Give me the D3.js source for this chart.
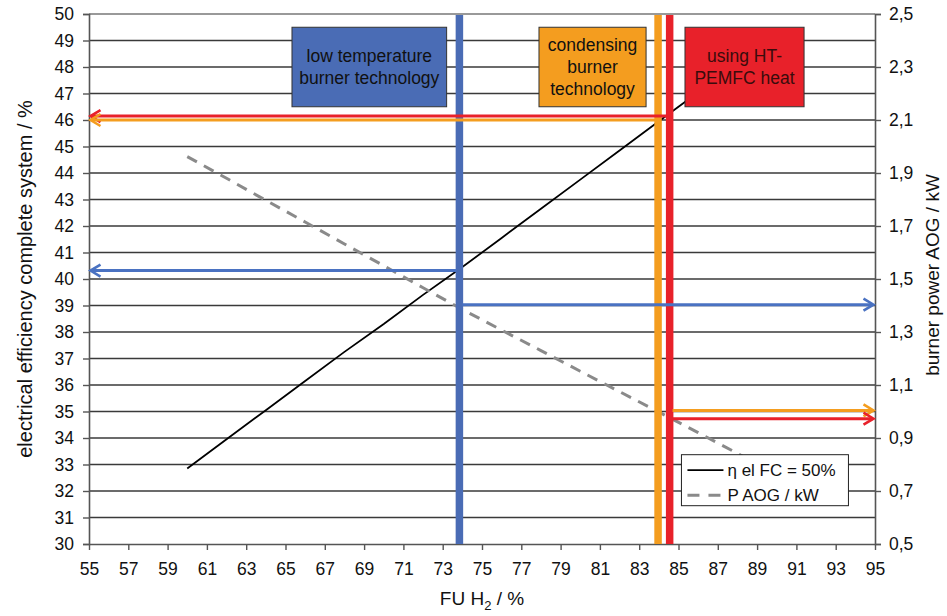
<!DOCTYPE html>
<html>
<head>
<meta charset="utf-8">
<script src="https://cdn.jsdelivr.net/npm/d3@7"></script>
<style>
  body { margin: 0; background: #fff; }
  svg text { font-family: "Liberation Sans", Arial, sans-serif; fill: #111; }
</style>
</head>
<body>
<svg id="chart" width="947" height="616"></svg>
<script>
// values
var effTicks = [30, 31, 32, 33, 34, 35, 36, 37, 38, 39, 40, 41, 42, 43, 44, 45, 46, 47, 48, 49, 50];
var fuTicks = [55, 57, 59, 61, 63, 65, 67, 69, 71, 73, 75, 77, 79, 81, 83, 85, 87, 89, 91, 93, 95];
var powerTicks = [0.5, 0.7, 0.9, 1.1, 1.3, 1.5, 1.7, 1.9, 2.1, 2.3, 2.5];

// eta el (left axis, %)
var fuEta = [60, 62, 64, 66, 68, 70, 72, 74, 76, 78, 80, 82, 84, 86, 88];
var etaEl = [32.85, 33.95, 35.05, 36.15, 37.25, 38.3, 39.4, 40.45, 41.55, 42.65, 43.75, 44.85, 45.95, 47.05, 48.15];

// P AOG (right axis, kW)
var fuAog = [60, 62, 64, 66, 68, 70, 72, 74, 76, 78, 80, 82, 84, 86, 88, 89];
var pAog = [1.962, 1.88, 1.797, 1.715, 1.632, 1.55, 1.467, 1.385, 1.307, 1.23, 1.152, 1.075, 0.998, 0.92, 0.842, 0.80];

// technology limits (FU H2 %)
var techNames = ["low temperature burner technology", "condensing burner technology", "using HT-PEMFC heat"];
var techLines = [["low temperature", "burner technology"], ["condensing", "burner", "technology"], ["using HT-", "PEMFC heat"]];
var techFu = [73.85, 83.96, 84.55];
var techColor = ["#4a6cb5", "#f49d1f", "#e8212a"];
var techTextColor = ["#111", "#111", "#3a0c0c"];
var boxFrom = [65.33, 77.9, 85.33];
var boxTo = [73.2, 83.35, 91.39];

// read-off arrows: y in left-axis units, from a bar towards an axis
var arrowY = [46.15, 46.0, 40.32, 39.03, 35.04, 34.73];
var arrowFrom = [84.4, 83.8, 73.7, 74.0, 84.7, 84.7];
var arrowTo = [55, 55, 55, 95, 95, 95];
var arrowColor = ["#e8212a", "#f49d1f", "#4a72c2", "#4a72c2", "#f49d1f", "#e8212a"];

var svg = d3.select("#chart"),
  margin = {top: 14, right: 72, bottom: 72, left: 89},
  width = +svg.attr("width") - margin.left - margin.right,
  height = +svg.attr("height") - margin.top - margin.bottom;

var x = d3.scaleLinear().domain([55, 95]).range([0, width]),
  y = d3.scaleLinear().domain([30, 50]).range([height, 0]),
  y2 = d3.scaleLinear().domain([0.5, 2.5]).range([height, 0]);

var g = svg.append("g")
  .attr("transform", "translate(" + margin.left + "," + margin.top + ")");

// horizontal grid
g.selectAll(".grid")
  .data(effTicks.slice(1))
  .enter().append("line")
  .attr("class", "grid")
  .attr("x1", 0).attr("x2", width)
  .attr("y1", function(d) { return y(d); })
  .attr("y2", function(d) { return y(d); })
  .attr("stroke", function(d) { return d == 50 ? "#777" : "#3a3a3a"; })
  .attr("stroke-width", 1.4);

function styleAxis(sel) {
  sel.selectAll("path").attr("stroke", "#555").attr("stroke-width", 1.6);
  sel.selectAll("line").attr("stroke", "#555").attr("stroke-width", 1.4);
  sel.selectAll("text").style("font-size", "17.5px").attr("fill", "#111");
}

g.append("g")
  .attr("transform", "translate(0," + height + ")")
  .call(d3.axisBottom(x).tickValues(fuTicks).tickSize(6).tickPadding(13).tickFormat(d3.format("d")))
  .call(styleAxis);

g.append("g")
  .call(d3.axisLeft(y).tickValues(effTicks).tickSize(6).tickPadding(9).tickFormat(d3.format("d")))
  .call(styleAxis);

g.append("g")
  .attr("transform", "translate(" + width + ",0)")
  .call(d3.axisRight(y2).tickValues(powerTicks).tickSize(6).tickPadding(8)
    .tickFormat(function(d) { return d3.format(".1f")(d).replace(".", ","); }))
  .call(styleAxis);

g.selectAll(".domain").attr("d", function() {
  return d3.select(this).attr("d").replace(/M([-\d.]+),6V0/, "M$1,0").replace(/V6$/, "");
});

// series
var etaLine = d3.line()
  .x(function(d, i) { return x(fuEta[i]); })
  .y(function(d) { return y(d); });
var aogLine = d3.line()
  .x(function(d, i) { return x(fuAog[i]); })
  .y(function(d) { return y2(d); });

g.append("path")
  .attr("d", etaLine(etaEl))
  .attr("fill", "none").attr("stroke", "#000").attr("stroke-width", 1.8);

g.append("path")
  .attr("d", aogLine(pAog))
  .attr("fill", "none").attr("stroke", "#8a8a8a").attr("stroke-width", 3)
  .attr("stroke-dasharray", "11,8");

// vertical technology bars
g.selectAll(".bar")
  .data(techFu)
  .enter().append("line")
  .attr("class", "bar")
  .attr("x1", function(d) { return x(d); })
  .attr("x2", function(d) { return x(d); })
  .attr("y1", 1).attr("y2", height)
  .attr("stroke", function(d, i) { return techColor[i]; })
  .attr("stroke-width", 7.5);

// arrows
arrowY.forEach(function(v, i) {
  var x1 = x(arrowFrom[i]), x2 = x(arrowTo[i]), yy = y(v);
  var dir = x2 > x1 ? 1 : -1;
  var tip = x2 - dir * 1.5;
  g.append("line")
    .attr("x1", x1).attr("x2", tip - dir * 1).attr("y1", yy).attr("y2", yy)
    .attr("stroke", arrowColor[i]).attr("stroke-width", 3);
  g.append("path")
    .attr("d", "M" + (tip - dir * 10) + "," + (yy - 6) + "L" + tip + "," + yy + "L" + (tip - dir * 10) + "," + (yy + 6))
    .attr("fill", "none").attr("stroke", arrowColor[i]).attr("stroke-width", 2.6)
    .attr("stroke-linejoin", "miter");
});

// labelled boxes
techNames.forEach(function(name, i) {
  var bx = x(boxFrom[i]), bw = x(boxTo[i]) - x(boxFrom[i]),
    by = y(49.5), bh = y(46.5) - y(49.5);
  var box = g.append("g").attr("class", "techbox");
  box.append("rect")
    .attr("x", bx).attr("y", by).attr("width", bw).attr("height", bh)
    .attr("fill", techColor[i]).attr("stroke", "#333").attr("stroke-width", 1);
  var lines = techLines[i], lh = 22;
  var t = box.append("text")
    .attr("text-anchor", "middle")
    .style("font-size", "17.5px")
    .style("fill", techTextColor[i]);
  lines.forEach(function(s, k) {
    t.append("tspan")
      .attr("x", bx + bw / 2)
      .attr("y", by + bh / 2 + (k - (lines.length - 1) / 2) * lh + 6)
      .text(s);
  });
});

// legend
var lg = g.append("g").attr("transform", "translate(" + (x(85.15)) + "," + (y(33.37)) + ")");
lg.append("rect").attr("width", 167).attr("height", 51)
  .attr("fill", "#fff").attr("stroke", "#222").attr("stroke-width", 1);
lg.append("line").attr("x1", 6).attr("x2", 42).attr("y1", 15.5).attr("y2", 15.5)
  .attr("stroke", "#000").attr("stroke-width", 1.8);
lg.append("text").attr("x", 46).attr("y", 21.5).style("font-size", "17px").text("η el FC = 50%");
lg.append("line").attr("x1", 6).attr("x2", 40).attr("y1", 40.5).attr("y2", 40.5)
  .attr("stroke", "#8a8a8a").attr("stroke-width", 3).attr("stroke-dasharray", "12,9");
lg.append("text").attr("x", 46).attr("y", 46.5).style("font-size", "17px").text("P AOG / kW");

// axis titles
var xt = svg.append("text")
  .attr("x", margin.left + width / 2)
  .attr("y", 605)
  .attr("text-anchor", "middle")
  .style("font-size", "19px");
xt.append("tspan").text("FU H");
xt.append("tspan").attr("dy", 5).style("font-size", "13px").text("2");
xt.append("tspan").attr("dy", -5).text(" / %");

svg.append("text")
  .attr("transform", "translate(32," + (margin.top + height / 2) + ") rotate(-90)")
  .attr("text-anchor", "middle")
  .style("font-size", "20px")
  .text("electrical efficiency complete system / %");

svg.append("text")
  .attr("transform", "translate(939," + (margin.top + height / 2 - 4) + ") rotate(-90)")
  .attr("text-anchor", "middle")
  .style("font-size", "19px")
  .text("burner power AOG / kW");
</script>
</body>
</html>
